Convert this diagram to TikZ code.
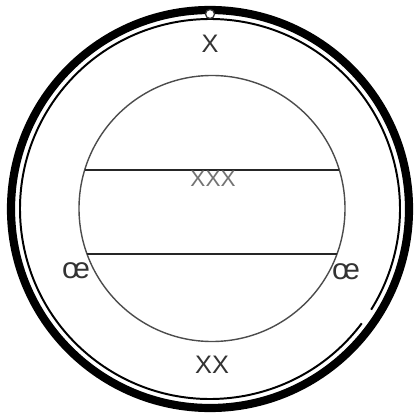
\documentclass[tikz,border=0pt]{standalone}
\usepackage{fontspec}
\setmainfont{Liberation Sans}

\begin{document}
\begin{tikzpicture}[x=0.025cm, y=-0.025cm]
  \useasboundingbox (0,0) rectangle (415,419);

  % Outer wall (thick)
  \draw[draw=black, line width=5.8pt] (210,209) circle[radius=199];
  % Inner wall (thin, broken at lower right)
  \draw[draw=black, line width=1.4pt] (210,209) ++(37:190)
    arc[start angle=37, end angle=392, radius=190];
  % Pore at the top
  \draw[fill=white, draw=black!80, line width=0.9pt] (210,14) circle[radius=4.5];

  % Inner circle
  \draw[draw=black!70, line width=1pt] (212,208.5) circle[radius=133];

  % Band (two chords)
  \coordinate (upL) at (85,170);
  \coordinate (upR) at (339,170);
  \coordinate (loL) at (87,254);
  \coordinate (loR) at (337,254);
  \draw[draw=black!85, line width=1.3pt] (upL) -- (upR);
  \draw[draw=black!85, line width=1.3pt] (loL) -- (loR);

  % Labels
  \node[font=\fontsize{18}{18}\selectfont, text=black!80, inner sep=0pt] (top) at (210,44) {X};
  \node[font=\fontsize{16}{16}\selectfont, text=black!55, inner sep=0pt] (mid) at (213,179) {XXX};
  \node[font=\fontsize{18}{18}\selectfont, text=black!80, inner sep=0pt] (bot) at (212,365) {XX};
  \node[font=\fontsize{21}{21}\selectfont, text=black!80, inner sep=0pt] (left) at (76,271) {œ};
  \node[font=\fontsize{21}{21}\selectfont, text=black!80, inner sep=0pt] (right) at (346,272) {œ};
\end{tikzpicture}
\end{document}
